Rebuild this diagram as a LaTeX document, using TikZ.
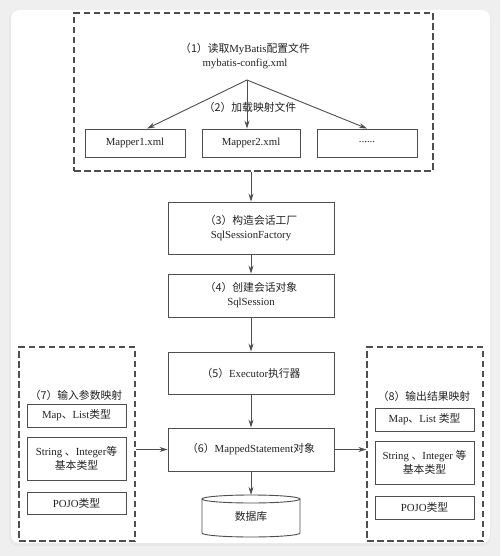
\documentclass[tikz,border=0pt]{standalone}
\usepackage{fontspec}
\setmainfont{Liberation Serif}
\newfontfamily\cjk{Noto Sans CJK SC}
\usetikzlibrary{arrows.meta,calc}
\definecolor{linec}{HTML}{4E4E4E}
\definecolor{txtc}{HTML}{222222}
\definecolor{bgc}{HTML}{EFEFEF}
\newcommand{\zh}[1]{{\cjk #1}}
\begin{document}
\begin{tikzpicture}[x=1pt,y=-1pt,
  every node/.style={font=\fontsize{10.8}{14}\selectfont, text=txtc},
  bx/.style={draw=linec, line width=0.9pt, inner sep=0pt, align=center},
  dbox/.style={draw=linec, line width=1.2pt, dash pattern=on 6.5pt off 3.5pt, inner sep=0pt},
  txt/.style={inner sep=0pt, align=center},
  arr/.style={draw=linec, line width=0.9pt, -{Stealth[length=8pt,width=5pt]}}]
\useasboundingbox (0,0) rectangle (500,556);
\fill[bgc] (0,0) rectangle (500,556);
% card shadow and card
\fill[black!6, rounded corners=10pt] (8,9) rectangle (492,548);
\fill[black!9, rounded corners=9pt] (9,10) rectangle (491,546);
\fill[white, rounded corners=8pt] (11,10) rectangle (490,543);
% top dashed group
\node[dbox, minimum width=359pt, minimum height=158pt] (topbox) at (253.5,92) {};
\node[txt] (t1) at (245,56) {\zh{（1）读取}MyBatis\zh{配置文件}\\mybatis-config.xml};
\coordinate (fan) at (247,80);
\node[txt] (t2) at (250,107) {\zh{（2）加载映射文件}};
\node[bx, minimum width=100pt, minimum height=28pt] (m1) at (135,143) {Mapper1.xml};
\node[bx, minimum width=98pt, minimum height=28pt] (m2) at (251,143) {Mapper2.xml};
\node[bx, minimum width=100pt, minimum height=28pt] (m3) at (367,143) {\raisebox{2pt}{......}};
\draw[arr] (fan) -- ($(m1.north west)!0.62!(m1.north east)$);
\draw[arr] (fan) -- (fan |- m2.north);
\draw[arr] (fan) -- (m3.north);
% main column
\node[bx, minimum width=166pt, minimum height=52pt] (b3) at (251,228) {\zh{（3）构造会话工厂}\\SqlSessionFactory};
\node[bx, minimum width=166pt, minimum height=43pt] (b4) at (251,295.5) {\zh{（4）创建会话对象}\\SqlSession};
\node[bx, minimum width=166pt, minimum height=42pt] (b5) at (251,373) {\zh{（5）}Executor\zh{执行器}};
\node[bx, minimum width=166pt, minimum height=43pt] (b6) at (251,449.5) {\zh{（6）}MappedStatement\zh{对象}};
\node[txt, minimum width=98pt, minimum height=42pt] (db) at (251,516) {\zh{数据库}};
\draw[linec, line width=0.9pt] (251,499) ellipse[x radius=49pt, y radius=4pt];
\draw[linec, line width=0.9pt] (202,499) -- (202,533) arc[start angle=180, end angle=360, x radius=49pt, y radius=4pt] -- (300,499);
\draw[arr] (topbox.south -| b3.north) -- (b3.north);
\draw[arr] (b3) -- (b4);
\draw[arr] (b4) -- (b5);
\draw[arr] (b5) -- (b6);
\draw[arr] (b6.south) -- (db.north);
% left group
\node[dbox, minimum width=116pt, minimum height=194pt] (lbox) at (77,444) {};
\node[txt] (l7) at (76,395) {\zh{（7）输入参数映射}};
\node[bx, minimum width=99pt, minimum height=23pt] (lm) at (76.5,415.5) {Map\zh{、}List\zh{类型}};
\node[bx, minimum width=99pt, minimum height=43pt] (ls) at (76.5,458.5) {String \zh{、}Integer\zh{等}\\\zh{基本类型}};
\node[bx, minimum width=99pt, minimum height=22pt] (lp) at (76.5,503) {POJO\zh{类型}};
% right group
\node[dbox, minimum width=116pt, minimum height=194pt] (rbox) at (425,444) {};
\node[txt] (r8) at (424,396) {\zh{（8）输出结果映射}};
\node[bx, minimum width=99pt, minimum height=23pt] (rm) at (424.5,419.5) {Map\zh{、}List \zh{类型}};
\node[bx, minimum width=99pt, minimum height=43pt] (rs) at (424.5,462.5) {String \zh{、}Integer \zh{等}\\\zh{基本类型}};
\node[bx, minimum width=99pt, minimum height=23pt] (rp) at (424.5,507.5) {POJO\zh{类型}};
\draw[arr] (b6.west -| lbox.east) -- (b6.west);
\draw[arr] (b6.east) -- (b6.east -| rbox.west);
\end{tikzpicture}
\end{document}
